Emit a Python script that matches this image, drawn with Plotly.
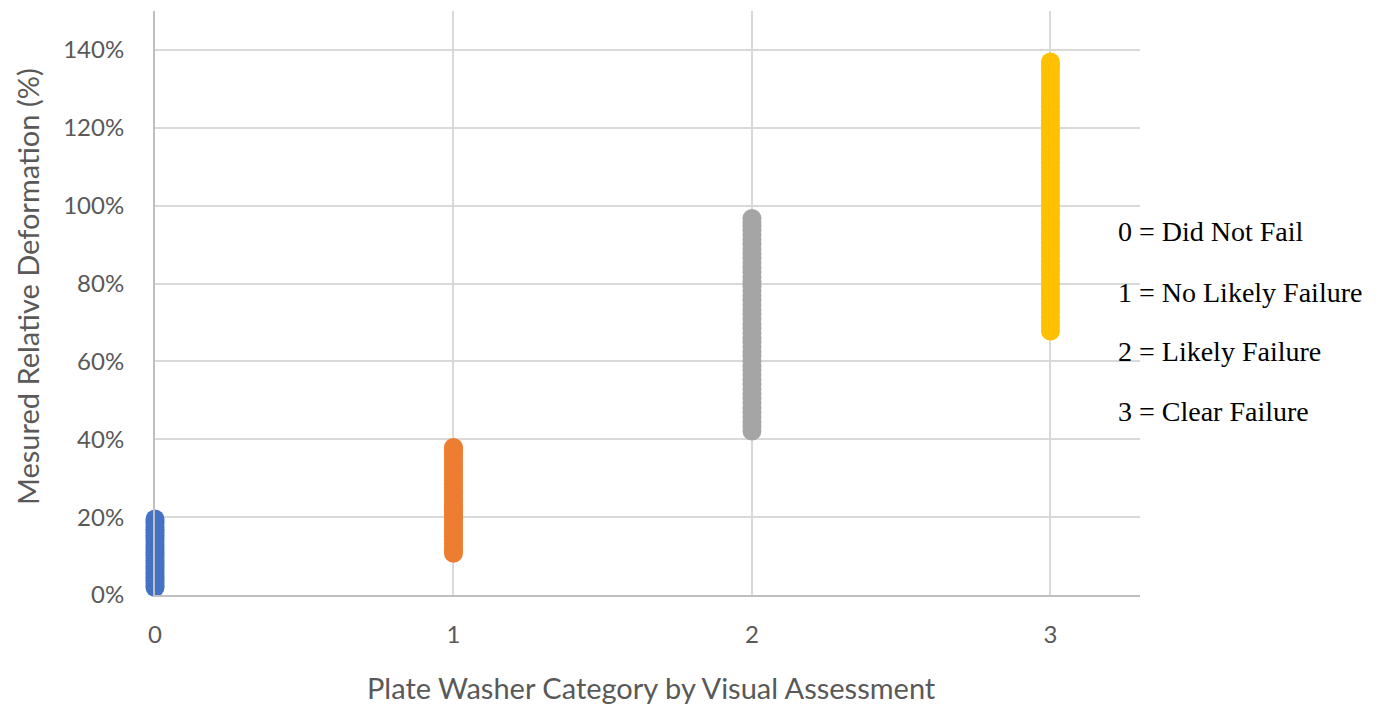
import plotly.graph_objects as go

categories = [0, 1, 2, 3]
cat_names = ["0 = Did Not Fail", "1 = No Likely Failure", "2 = Likely Failure", "3 = Clear Failure"]
colors = ["#4472C4", "#ED7D31", "#A5A5A5", "#FFC000"]
x_title = "Plate Washer Category by Visual Assessment"
y_title = "Mesured Relative Deformation (%)"

deform_0 = [0.019, 0.024, 0.031, 0.038, 0.045, 0.052, 0.058, 0.066, 0.073, 0.081,
            0.088, 0.095, 0.102, 0.109, 0.117, 0.124, 0.131, 0.139, 0.146, 0.153,
            0.161, 0.168, 0.175, 0.183, 0.189, 0.195]
deform_1 = [0.107, 0.115, 0.124, 0.133, 0.142, 0.151, 0.160, 0.169, 0.178, 0.187,
            0.196, 0.205, 0.214, 0.223, 0.232, 0.241, 0.250, 0.259, 0.268, 0.277,
            0.286, 0.295, 0.304, 0.313, 0.322, 0.331, 0.340, 0.349, 0.358, 0.367,
            0.374, 0.379]
deform_2 = [0.421, 0.433, 0.445, 0.457, 0.469, 0.481, 0.493, 0.505, 0.517, 0.529,
            0.541, 0.553, 0.565, 0.577, 0.589, 0.601, 0.613, 0.625, 0.637, 0.649,
            0.661, 0.673, 0.685, 0.697, 0.709, 0.721, 0.733, 0.745, 0.757, 0.769,
            0.781, 0.793, 0.805, 0.817, 0.829, 0.841, 0.853, 0.865, 0.877, 0.889,
            0.901, 0.913, 0.925, 0.937, 0.949, 0.958, 0.967]
deform_3 = [0.678, 0.690, 0.702, 0.714, 0.726, 0.738, 0.750, 0.762, 0.774, 0.786,
            0.798, 0.810, 0.822, 0.834, 0.846, 0.858, 0.870, 0.882, 0.894, 0.906,
            0.918, 0.930, 0.942, 0.954, 0.966, 0.978, 0.990, 1.002, 1.014, 1.026,
            1.038, 1.050, 1.062, 1.074, 1.086, 1.098, 1.110, 1.122, 1.134, 1.146,
            1.158, 1.170, 1.182, 1.194, 1.206, 1.218, 1.230, 1.242, 1.254, 1.266,
            1.278, 1.290, 1.302, 1.314, 1.326, 1.338, 1.350, 1.360, 1.369]
all_deform = [deform_0, deform_1, deform_2, deform_3]

y_ticks = [0, 0.2, 0.4, 0.6, 0.8, 1.0, 1.2, 1.4]
y_ticklabels = ["0%", "20%", "40%", "60%", "80%", "100%", "120%", "140%"]

fig = go.Figure()
for cat, vals, col in zip(categories, all_deform, colors):
    fig.add_trace(go.Scatter(
        x=[cat] * len(vals), y=vals, mode="markers", cliponaxis=False,
        marker=dict(size=19, color=col, line=dict(width=0)),
        showlegend=False, hoverinfo="skip"))

grid = "#d9d9d9"
tickfont = dict(family="Lato, Open Sans, sans-serif", size=24, color="#595959")
titlefont = dict(family="Lato, Open Sans, sans-serif", size=29, color="#595959")

fig.update_layout(
    width=1384, height=704,
    margin=dict(l=155, r=244, t=11, b=109),
    paper_bgcolor="white", plot_bgcolor="white",
    xaxis=dict(range=[0, 3.3], tickvals=categories, ticktext=[str(c) for c in categories],
               showgrid=True, gridcolor=grid, gridwidth=2, zeroline=False,
               showline=True, linecolor="#bfbfbf", linewidth=2, automargin=False,
               ticks="", tickfont=tickfont, ticklabelstandoff=17),
    yaxis=dict(range=[0, 1.5], tickvals=y_ticks, ticktext=y_ticklabels,
               showgrid=True, gridcolor=grid, gridwidth=2, zeroline=False,
               showline=True, linecolor="#bfbfbf", linewidth=2, automargin=False,
               ticks="", tickfont=tickfont, ticklabelstandoff=24),
)

# axis titles
fig.add_annotation(text=x_title, xref="paper", yref="paper", x=0.5036, y=-0.159,
                   xanchor="center", yanchor="middle", showarrow=False, font=titlefont)
fig.add_annotation(text=y_title, xref="paper", yref="paper", x=-0.130, y=0.529,
                   xanchor="center", yanchor="middle", textangle=-90, showarrow=False, font=titlefont)

ys = [0.6216, 0.5188, 0.4161, 0.3134]
for name, yp in zip(cat_names, ys):
    fig.add_annotation(text=name, xref="paper", yref="paper", x=0.9757, y=yp,
                       xanchor="left", yanchor="middle", showarrow=False,
                       font=dict(family="Liberation Serif, Times New Roman, serif", size=28, color="black"))

fig.write_html("out.html")
